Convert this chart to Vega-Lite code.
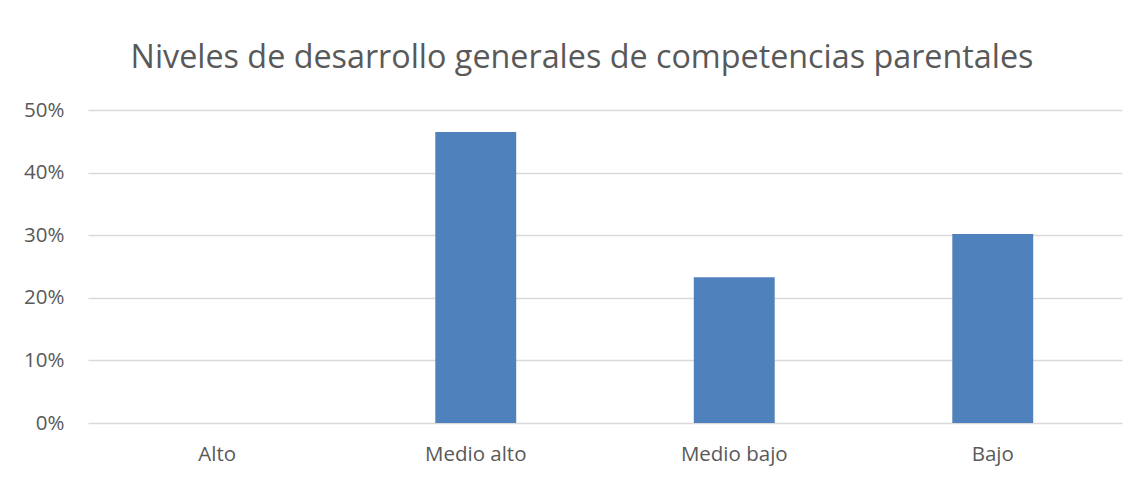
{
  "$schema": "https://vega.github.io/schema/vega-lite/v6.json",
  "autosize": "none",
  "width": 1034,
  "height": 313,
  "padding": {"left": 88, "top": 110, "right": 24, "bottom": 55},
  "background": "white",
  "title": {
    "text": "Niveles de desarrollo generales de competencias parentales",
    "font": "Open Sans",
    "fontSize": 32.3,
    "fontWeight": "normal",
    "color": "#595959",
    "anchor": "middle",
    "dx": -23,
    "offset": 26
  },
  "data": {
    "values": [
      {"nivel": "Alto", "porcentaje": 0},
      {"nivel": "Medio alto", "porcentaje": 0.465},
      {"nivel": "Medio bajo", "porcentaje": 0.233},
      {"nivel": "Bajo", "porcentaje": 0.302}
    ]
  },
  "mark": {"type": "bar", "color": "#4f81bd"},
  "encoding": {
    "x": {
      "field": "nivel",
      "type": "nominal",
      "sort": ["Alto", "Medio alto", "Medio bajo", "Bajo"],
      "scale": {"paddingInner": 0.687, "paddingOuter": 0.3435},
      "axis": {"title": null, "labelAngle": 0, "ticks": false, "domain": false, "labelPadding": 21, "labelFont": "Open Sans", "labelFontSize": 20.5, "labelColor": "#595959"}
    },
    "y": {
      "field": "porcentaje",
      "type": "quantitative",
      "scale": {"domain": [0, 0.5], "nice": false},
      "axis": {"title": null, "format": ".0%", "values": [0, 0.1, 0.2, 0.3, 0.4, 0.5], "ticks": false, "domain": false, "labelPadding": 24, "labelFont": "Open Sans", "labelFontSize": 20.5, "labelColor": "#595959", "gridColor": "#d9d9d9", "gridWidth": 1.5}
    }
  },
  "config": {"view": {"stroke": null}}
}
